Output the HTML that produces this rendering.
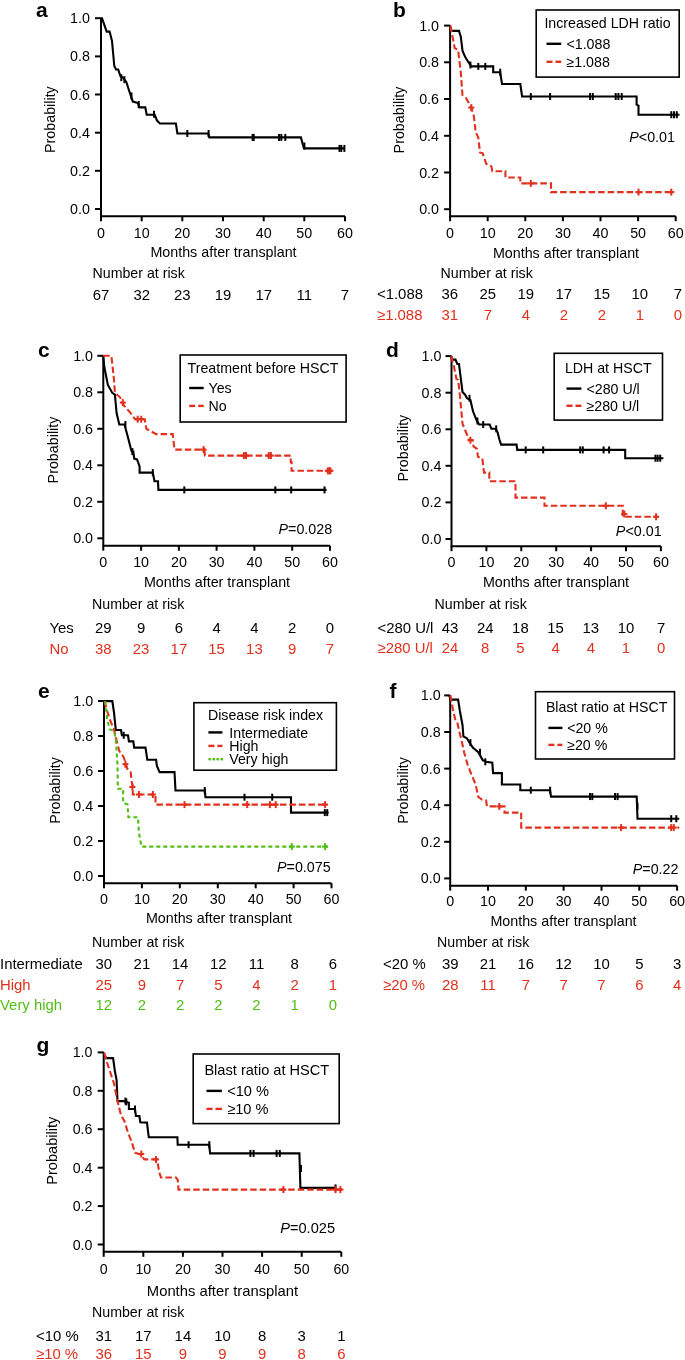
<!DOCTYPE html>
<html><head><meta charset="utf-8"><style>
html,body{margin:0;padding:0;background:#fff;}
svg{display:block;will-change:transform;}
text{font-family:"Liberation Sans", sans-serif;}
</style></head><body>
<svg width="685" height="1360" viewBox="0 0 685 1360">
<rect width="685" height="1360" fill="#fff"/>
<text x="36.0" y="17.0" font-size="21" text-anchor="start" fill="#000" font-weight="bold" font-style="normal" >a</text>
<path d="M101.0,18.2 L101.0,216.3 L345.0,216.3" fill="none" stroke="#000" stroke-width="2" stroke-linejoin="miter"/>
<line x1="95.0" y1="209.0" x2="101.0" y2="209.0" stroke="#000" stroke-width="2"/>
<text x="89.9" y="214.0" font-size="14.3" text-anchor="end" fill="#000" font-weight="normal" font-style="normal" >0.0</text>
<line x1="95.0" y1="170.8" x2="101.0" y2="170.8" stroke="#000" stroke-width="2"/>
<text x="89.9" y="175.8" font-size="14.3" text-anchor="end" fill="#000" font-weight="normal" font-style="normal" >0.2</text>
<line x1="95.0" y1="132.7" x2="101.0" y2="132.7" stroke="#000" stroke-width="2"/>
<text x="89.9" y="137.7" font-size="14.3" text-anchor="end" fill="#000" font-weight="normal" font-style="normal" >0.4</text>
<line x1="95.0" y1="94.5" x2="101.0" y2="94.5" stroke="#000" stroke-width="2"/>
<text x="89.9" y="99.5" font-size="14.3" text-anchor="end" fill="#000" font-weight="normal" font-style="normal" >0.6</text>
<line x1="95.0" y1="56.4" x2="101.0" y2="56.4" stroke="#000" stroke-width="2"/>
<text x="89.9" y="61.4" font-size="14.3" text-anchor="end" fill="#000" font-weight="normal" font-style="normal" >0.8</text>
<line x1="95.0" y1="18.2" x2="101.0" y2="18.2" stroke="#000" stroke-width="2"/>
<text x="89.9" y="23.2" font-size="14.3" text-anchor="end" fill="#000" font-weight="normal" font-style="normal" >1.0</text>
<line x1="101.0" y1="216.3" x2="101.0" y2="221.3" stroke="#000" stroke-width="2"/>
<text x="101.0" y="238.3" font-size="14.3" text-anchor="middle" fill="#000" font-weight="normal" font-style="normal" >0</text>
<line x1="141.7" y1="216.3" x2="141.7" y2="221.3" stroke="#000" stroke-width="2"/>
<text x="141.7" y="238.3" font-size="14.3" text-anchor="middle" fill="#000" font-weight="normal" font-style="normal" >10</text>
<line x1="182.3" y1="216.3" x2="182.3" y2="221.3" stroke="#000" stroke-width="2"/>
<text x="182.3" y="238.3" font-size="14.3" text-anchor="middle" fill="#000" font-weight="normal" font-style="normal" >20</text>
<line x1="223.0" y1="216.3" x2="223.0" y2="221.3" stroke="#000" stroke-width="2"/>
<text x="223.0" y="238.3" font-size="14.3" text-anchor="middle" fill="#000" font-weight="normal" font-style="normal" >30</text>
<line x1="263.7" y1="216.3" x2="263.7" y2="221.3" stroke="#000" stroke-width="2"/>
<text x="263.7" y="238.3" font-size="14.3" text-anchor="middle" fill="#000" font-weight="normal" font-style="normal" >40</text>
<line x1="304.3" y1="216.3" x2="304.3" y2="221.3" stroke="#000" stroke-width="2"/>
<text x="304.3" y="238.3" font-size="14.3" text-anchor="middle" fill="#000" font-weight="normal" font-style="normal" >50</text>
<line x1="345.0" y1="216.3" x2="345.0" y2="221.3" stroke="#000" stroke-width="2"/>
<text x="345.0" y="238.3" font-size="14.3" text-anchor="middle" fill="#000" font-weight="normal" font-style="normal" >60</text>
<text x="55.0" y="119.6" font-size="14.3" text-anchor="middle" fill="#000" font-weight="normal" font-style="normal" transform="rotate(-90 55.0 119.6)">Probability</text>
<text x="223.5" y="257.2" font-size="14.3" text-anchor="middle" fill="#000" font-weight="normal" font-style="normal" >Months after transplant</text>
<polyline points="101.0,18.2 102.0,18.2 106.7,31.6 109.6,31.6 112.0,41.0 114.3,66.0 116.0,69.5 118.2,69.5 120.4,76.0 123.0,77.7 126.3,81.9 128.9,90.0 132.8,101.6 138.0,103.0 139.4,107.4 145.3,107.4 146.7,114.7 154.7,114.7 157.0,120.6 159.9,123.5 175.9,123.5 177.4,133.5 208.2,133.5 209.3,137.4 300.9,137.4 302.8,144.4 304.0,148.4 345.0,148.4" fill="none" stroke="#000" stroke-width="2.1" stroke-linejoin="miter"/>
<line x1="121.3" y1="74.2" x2="121.3" y2="81.2" stroke="#000" stroke-width="2"/>
<line x1="124.4" y1="76.2" x2="124.4" y2="83.2" stroke="#000" stroke-width="2"/>
<line x1="131.5" y1="92.5" x2="131.5" y2="99.5" stroke="#000" stroke-width="2"/>
<line x1="138.7" y1="101.0" x2="138.7" y2="108.0" stroke="#000" stroke-width="2"/>
<line x1="154.0" y1="110.7" x2="154.0" y2="117.7" stroke="#000" stroke-width="2"/>
<line x1="187.3" y1="130.0" x2="187.3" y2="137.0" stroke="#000" stroke-width="2"/>
<line x1="208.6" y1="130.0" x2="208.6" y2="137.0" stroke="#000" stroke-width="2"/>
<line x1="252.6" y1="133.9" x2="252.6" y2="140.9" stroke="#000" stroke-width="2"/>
<line x1="253.7" y1="133.9" x2="253.7" y2="140.9" stroke="#000" stroke-width="2"/>
<line x1="279.0" y1="133.9" x2="279.0" y2="140.9" stroke="#000" stroke-width="2"/>
<line x1="281.3" y1="133.9" x2="281.3" y2="140.9" stroke="#000" stroke-width="2"/>
<line x1="285.3" y1="133.9" x2="285.3" y2="140.9" stroke="#000" stroke-width="2"/>
<line x1="304.4" y1="142.5" x2="304.4" y2="149.5" stroke="#000" stroke-width="2"/>
<line x1="339.5" y1="144.9" x2="339.5" y2="151.9" stroke="#000" stroke-width="2"/>
<line x1="341.3" y1="144.9" x2="341.3" y2="151.9" stroke="#000" stroke-width="2"/>
<line x1="344.4" y1="144.9" x2="344.4" y2="151.9" stroke="#000" stroke-width="2"/>
<text x="92.5" y="277.5" font-size="14.2" text-anchor="start" fill="#000" font-weight="normal" font-style="normal" >Number at risk</text>
<text x="101.0" y="299.5" font-size="14.9" text-anchor="middle" fill="#000" font-weight="normal" font-style="normal" >67</text>
<text x="141.7" y="299.5" font-size="14.9" text-anchor="middle" fill="#000" font-weight="normal" font-style="normal" >32</text>
<text x="182.3" y="299.5" font-size="14.9" text-anchor="middle" fill="#000" font-weight="normal" font-style="normal" >23</text>
<text x="223.0" y="299.5" font-size="14.9" text-anchor="middle" fill="#000" font-weight="normal" font-style="normal" >19</text>
<text x="263.7" y="299.5" font-size="14.9" text-anchor="middle" fill="#000" font-weight="normal" font-style="normal" >17</text>
<text x="304.3" y="299.5" font-size="14.9" text-anchor="middle" fill="#000" font-weight="normal" font-style="normal" >11</text>
<text x="345.0" y="299.5" font-size="14.9" text-anchor="middle" fill="#000" font-weight="normal" font-style="normal" >7</text>
<text x="393.0" y="17.2" font-size="21" text-anchor="start" fill="#000" font-weight="bold" font-style="normal" >b</text>
<path d="M450.1,25.6 L450.1,216.2 L675.7,216.2" fill="none" stroke="#000" stroke-width="2" stroke-linejoin="miter"/>
<line x1="444.1" y1="209.2" x2="450.1" y2="209.2" stroke="#000" stroke-width="2"/>
<text x="439.0" y="214.2" font-size="14.3" text-anchor="end" fill="#000" font-weight="normal" font-style="normal" >0.0</text>
<line x1="444.1" y1="172.5" x2="450.1" y2="172.5" stroke="#000" stroke-width="2"/>
<text x="439.0" y="177.5" font-size="14.3" text-anchor="end" fill="#000" font-weight="normal" font-style="normal" >0.2</text>
<line x1="444.1" y1="135.8" x2="450.1" y2="135.8" stroke="#000" stroke-width="2"/>
<text x="439.0" y="140.8" font-size="14.3" text-anchor="end" fill="#000" font-weight="normal" font-style="normal" >0.4</text>
<line x1="444.1" y1="99.0" x2="450.1" y2="99.0" stroke="#000" stroke-width="2"/>
<text x="439.0" y="104.0" font-size="14.3" text-anchor="end" fill="#000" font-weight="normal" font-style="normal" >0.6</text>
<line x1="444.1" y1="62.3" x2="450.1" y2="62.3" stroke="#000" stroke-width="2"/>
<text x="439.0" y="67.3" font-size="14.3" text-anchor="end" fill="#000" font-weight="normal" font-style="normal" >0.8</text>
<line x1="444.1" y1="25.6" x2="450.1" y2="25.6" stroke="#000" stroke-width="2"/>
<text x="439.0" y="30.6" font-size="14.3" text-anchor="end" fill="#000" font-weight="normal" font-style="normal" >1.0</text>
<line x1="450.1" y1="216.2" x2="450.1" y2="221.2" stroke="#000" stroke-width="2"/>
<text x="450.1" y="238.2" font-size="14.3" text-anchor="middle" fill="#000" font-weight="normal" font-style="normal" >0</text>
<line x1="487.7" y1="216.2" x2="487.7" y2="221.2" stroke="#000" stroke-width="2"/>
<text x="487.7" y="238.2" font-size="14.3" text-anchor="middle" fill="#000" font-weight="normal" font-style="normal" >10</text>
<line x1="525.3" y1="216.2" x2="525.3" y2="221.2" stroke="#000" stroke-width="2"/>
<text x="525.3" y="238.2" font-size="14.3" text-anchor="middle" fill="#000" font-weight="normal" font-style="normal" >20</text>
<line x1="562.9" y1="216.2" x2="562.9" y2="221.2" stroke="#000" stroke-width="2"/>
<text x="562.9" y="238.2" font-size="14.3" text-anchor="middle" fill="#000" font-weight="normal" font-style="normal" >30</text>
<line x1="600.5" y1="216.2" x2="600.5" y2="221.2" stroke="#000" stroke-width="2"/>
<text x="600.5" y="238.2" font-size="14.3" text-anchor="middle" fill="#000" font-weight="normal" font-style="normal" >40</text>
<line x1="638.1" y1="216.2" x2="638.1" y2="221.2" stroke="#000" stroke-width="2"/>
<text x="638.1" y="238.2" font-size="14.3" text-anchor="middle" fill="#000" font-weight="normal" font-style="normal" >50</text>
<line x1="675.7" y1="216.2" x2="675.7" y2="221.2" stroke="#000" stroke-width="2"/>
<text x="675.7" y="238.2" font-size="14.3" text-anchor="middle" fill="#000" font-weight="normal" font-style="normal" >60</text>
<text x="403.9" y="120.0" font-size="14.3" text-anchor="middle" fill="#000" font-weight="normal" font-style="normal" transform="rotate(-90 403.9 120.0)">Probability</text>
<text x="566.0" y="257.6" font-size="14.3" text-anchor="middle" fill="#000" font-weight="normal" font-style="normal" >Months after transplant</text>
<polyline points="450.1,25.8 451.1,30.9 459.0,30.9 460.8,36.6 462.5,50.7 465.1,56.8 467.8,61.2 471.3,66.4 493.2,66.4 493.2,72.2 500.2,72.2 502.0,84.0 520.3,84.0 522.1,96.5 636.6,96.5 636.6,104.7 638.5,105.6 638.5,114.7 679.5,114.7" fill="none" stroke="#000" stroke-width="2.1" stroke-linejoin="miter"/>
<line x1="470.4" y1="61.5" x2="470.4" y2="68.5" stroke="#000" stroke-width="2"/>
<line x1="478.3" y1="62.9" x2="478.3" y2="69.9" stroke="#000" stroke-width="2"/>
<line x1="485.3" y1="62.9" x2="485.3" y2="69.9" stroke="#000" stroke-width="2"/>
<line x1="500.2" y1="68.7" x2="500.2" y2="75.7" stroke="#000" stroke-width="2"/>
<line x1="530.8" y1="93.0" x2="530.8" y2="100.0" stroke="#000" stroke-width="2"/>
<line x1="550.1" y1="93.0" x2="550.1" y2="100.0" stroke="#000" stroke-width="2"/>
<line x1="590.1" y1="93.0" x2="590.1" y2="100.0" stroke="#000" stroke-width="2"/>
<line x1="592.8" y1="93.0" x2="592.8" y2="100.0" stroke="#000" stroke-width="2"/>
<line x1="615.7" y1="93.0" x2="615.7" y2="100.0" stroke="#000" stroke-width="2"/>
<line x1="618.4" y1="93.0" x2="618.4" y2="100.0" stroke="#000" stroke-width="2"/>
<line x1="621.7" y1="93.0" x2="621.7" y2="100.0" stroke="#000" stroke-width="2"/>
<line x1="671.3" y1="111.2" x2="671.3" y2="118.2" stroke="#000" stroke-width="2"/>
<line x1="674.0" y1="111.2" x2="674.0" y2="118.2" stroke="#000" stroke-width="2"/>
<line x1="676.8" y1="111.2" x2="676.8" y2="118.2" stroke="#000" stroke-width="2"/>
<polyline points="450.3,25.8 453.8,42.8 454.6,48.0 458.1,49.8 460.8,72.6 462.5,95.3 466.0,98.0 471.3,107.6 473.9,116.4 475.7,132.3 478.3,137.5 480.0,152.4 482.7,153.3 486.2,163.8 491.4,166.4 492.3,171.2 505.4,171.2 505.4,177.5 520.3,177.5 520.3,183.4 551.0,183.4 551.0,192.1 672.2,192.1" fill="none" stroke="#e1301e" stroke-width="2.1" stroke-linejoin="miter" stroke-dasharray="6.5 3"/>
<line x1="471.3" y1="104.1" x2="471.3" y2="111.1" stroke="#e1301e" stroke-width="2"/>
<line x1="468.3" y1="107.6" x2="474.3" y2="107.6" stroke="#e1301e" stroke-width="2.1"/>
<line x1="530.8" y1="179.9" x2="530.8" y2="186.9" stroke="#e1301e" stroke-width="2"/>
<line x1="527.8" y1="183.4" x2="533.8" y2="183.4" stroke="#e1301e" stroke-width="2.1"/>
<line x1="638.5" y1="188.6" x2="638.5" y2="195.6" stroke="#e1301e" stroke-width="2"/>
<line x1="635.5" y1="192.1" x2="641.5" y2="192.1" stroke="#e1301e" stroke-width="2.1"/>
<line x1="671.3" y1="188.6" x2="671.3" y2="195.6" stroke="#e1301e" stroke-width="2"/>
<line x1="668.3" y1="192.1" x2="674.3" y2="192.1" stroke="#e1301e" stroke-width="2.1"/>
<rect x="536.2" y="10.0" width="143.0" height="67.1" fill="#fff" stroke="#000" stroke-width="1.6"/>
<text x="544.4" y="28.0" font-size="14.2" text-anchor="start" fill="#000" font-weight="normal" font-style="normal" >Increased LDH ratio</text>
<line x1="546.5" y1="43.8" x2="561.2" y2="43.8" stroke="#000" stroke-width="2.4"/>
<text x="566.5" y="48.5" font-size="14.2" text-anchor="start" fill="#000" font-weight="normal" font-style="normal" >&lt;1.088</text>
<line x1="546.5" y1="61.8" x2="552.5" y2="61.8" stroke="#e1301e" stroke-width="2.4"/>
<line x1="555.5" y1="61.8" x2="561.2" y2="61.8" stroke="#e1301e" stroke-width="2.4"/>
<text x="566.5" y="66.5" font-size="14.2" text-anchor="start" fill="#000" font-weight="normal" font-style="normal" >≥1.088</text>
<text x="675.0" y="142.0" font-size="14.3" text-anchor="end"><tspan font-style="italic">P</tspan>&lt;0.01</text>
<text x="440.5" y="278.0" font-size="14.2" text-anchor="start" fill="#000" font-weight="normal" font-style="normal" >Number at risk</text>
<text x="377.0" y="299.0" font-size="14.9" text-anchor="start" fill="#000" font-weight="normal" font-style="normal" >&lt;1.088</text>
<text x="449.8" y="299.0" font-size="14.9" text-anchor="middle" fill="#000" font-weight="normal" font-style="normal" >36</text>
<text x="487.8" y="299.0" font-size="14.9" text-anchor="middle" fill="#000" font-weight="normal" font-style="normal" >25</text>
<text x="525.8" y="299.0" font-size="14.9" text-anchor="middle" fill="#000" font-weight="normal" font-style="normal" >19</text>
<text x="563.8" y="299.0" font-size="14.9" text-anchor="middle" fill="#000" font-weight="normal" font-style="normal" >17</text>
<text x="601.8" y="299.0" font-size="14.9" text-anchor="middle" fill="#000" font-weight="normal" font-style="normal" >15</text>
<text x="639.8" y="299.0" font-size="14.9" text-anchor="middle" fill="#000" font-weight="normal" font-style="normal" >10</text>
<text x="677.8" y="299.0" font-size="14.9" text-anchor="middle" fill="#000" font-weight="normal" font-style="normal" >7</text>
<text x="377.0" y="319.6" font-size="14.9" text-anchor="start" fill="#e1301e" font-weight="normal" font-style="normal" >≥1.088</text>
<text x="449.8" y="319.6" font-size="14.9" text-anchor="middle" fill="#e1301e" font-weight="normal" font-style="normal" >31</text>
<text x="487.8" y="319.6" font-size="14.9" text-anchor="middle" fill="#e1301e" font-weight="normal" font-style="normal" >7</text>
<text x="525.8" y="319.6" font-size="14.9" text-anchor="middle" fill="#e1301e" font-weight="normal" font-style="normal" >4</text>
<text x="563.8" y="319.6" font-size="14.9" text-anchor="middle" fill="#e1301e" font-weight="normal" font-style="normal" >2</text>
<text x="601.8" y="319.6" font-size="14.9" text-anchor="middle" fill="#e1301e" font-weight="normal" font-style="normal" >2</text>
<text x="639.8" y="319.6" font-size="14.9" text-anchor="middle" fill="#e1301e" font-weight="normal" font-style="normal" >1</text>
<text x="677.8" y="319.6" font-size="14.9" text-anchor="middle" fill="#e1301e" font-weight="normal" font-style="normal" >0</text>
<text x="38.0" y="357.0" font-size="21" text-anchor="start" fill="#000" font-weight="bold" font-style="normal" >c</text>
<path d="M103.3,355.8 L103.3,545.7 L330.0,545.7" fill="none" stroke="#000" stroke-width="2" stroke-linejoin="miter"/>
<line x1="97.3" y1="538.3" x2="103.3" y2="538.3" stroke="#000" stroke-width="2"/>
<text x="93.0" y="543.3" font-size="14.3" text-anchor="end" fill="#000" font-weight="normal" font-style="normal" >0.0</text>
<line x1="97.3" y1="501.8" x2="103.3" y2="501.8" stroke="#000" stroke-width="2"/>
<text x="93.0" y="506.8" font-size="14.3" text-anchor="end" fill="#000" font-weight="normal" font-style="normal" >0.2</text>
<line x1="97.3" y1="465.3" x2="103.3" y2="465.3" stroke="#000" stroke-width="2"/>
<text x="93.0" y="470.3" font-size="14.3" text-anchor="end" fill="#000" font-weight="normal" font-style="normal" >0.4</text>
<line x1="97.3" y1="428.8" x2="103.3" y2="428.8" stroke="#000" stroke-width="2"/>
<text x="93.0" y="433.8" font-size="14.3" text-anchor="end" fill="#000" font-weight="normal" font-style="normal" >0.6</text>
<line x1="97.3" y1="392.3" x2="103.3" y2="392.3" stroke="#000" stroke-width="2"/>
<text x="93.0" y="397.3" font-size="14.3" text-anchor="end" fill="#000" font-weight="normal" font-style="normal" >0.8</text>
<line x1="97.3" y1="355.8" x2="103.3" y2="355.8" stroke="#000" stroke-width="2"/>
<text x="93.0" y="360.8" font-size="14.3" text-anchor="end" fill="#000" font-weight="normal" font-style="normal" >1.0</text>
<line x1="103.3" y1="545.7" x2="103.3" y2="550.7" stroke="#000" stroke-width="2"/>
<text x="103.3" y="566.7" font-size="14.3" text-anchor="middle" fill="#000" font-weight="normal" font-style="normal" >0</text>
<line x1="141.1" y1="545.7" x2="141.1" y2="550.7" stroke="#000" stroke-width="2"/>
<text x="141.1" y="566.7" font-size="14.3" text-anchor="middle" fill="#000" font-weight="normal" font-style="normal" >10</text>
<line x1="178.9" y1="545.7" x2="178.9" y2="550.7" stroke="#000" stroke-width="2"/>
<text x="178.9" y="566.7" font-size="14.3" text-anchor="middle" fill="#000" font-weight="normal" font-style="normal" >20</text>
<line x1="216.6" y1="545.7" x2="216.6" y2="550.7" stroke="#000" stroke-width="2"/>
<text x="216.6" y="566.7" font-size="14.3" text-anchor="middle" fill="#000" font-weight="normal" font-style="normal" >30</text>
<line x1="254.4" y1="545.7" x2="254.4" y2="550.7" stroke="#000" stroke-width="2"/>
<text x="254.4" y="566.7" font-size="14.3" text-anchor="middle" fill="#000" font-weight="normal" font-style="normal" >40</text>
<line x1="292.2" y1="545.7" x2="292.2" y2="550.7" stroke="#000" stroke-width="2"/>
<text x="292.2" y="566.7" font-size="14.3" text-anchor="middle" fill="#000" font-weight="normal" font-style="normal" >50</text>
<line x1="330.0" y1="545.7" x2="330.0" y2="550.7" stroke="#000" stroke-width="2"/>
<text x="330.0" y="566.7" font-size="14.3" text-anchor="middle" fill="#000" font-weight="normal" font-style="normal" >60</text>
<text x="57.9" y="450.0" font-size="14.3" text-anchor="middle" fill="#000" font-weight="normal" font-style="normal" transform="rotate(-90 57.9 450.0)">Probability</text>
<text x="217.0" y="587.0" font-size="14.3" text-anchor="middle" fill="#000" font-weight="normal" font-style="normal" >Months after transplant</text>
<polyline points="103.2,355.8 104.4,367.5 107.9,385.0 112.3,392.9 114.9,394.7 116.6,413.1 119.3,424.5 124.5,424.5 128.0,437.6 130.7,448.1 131.8,451.5 133.3,451.6 134.2,458.6 137.0,459.4 139.6,466.4 139.6,472.6 152.8,472.6 154.5,481.3 158.0,481.3 158.4,489.9 326.6,489.9" fill="none" stroke="#000" stroke-width="2.1" stroke-linejoin="miter"/>
<line x1="125.4" y1="421.0" x2="125.4" y2="428.0" stroke="#000" stroke-width="2"/>
<line x1="132.4" y1="448.1" x2="132.4" y2="455.1" stroke="#000" stroke-width="2"/>
<line x1="152.8" y1="469.1" x2="152.8" y2="476.1" stroke="#000" stroke-width="2"/>
<line x1="184.3" y1="486.4" x2="184.3" y2="493.4" stroke="#000" stroke-width="2"/>
<line x1="275.3" y1="486.4" x2="275.3" y2="493.4" stroke="#000" stroke-width="2"/>
<line x1="291.2" y1="486.4" x2="291.2" y2="493.4" stroke="#000" stroke-width="2"/>
<line x1="324.5" y1="486.4" x2="324.5" y2="493.4" stroke="#000" stroke-width="2"/>
<polyline points="103.2,355.8 111.4,355.8 114.0,379.8 114.9,392.9 120.1,397.3 123.7,405.2 130.7,413.1 135.0,419.2 144.7,419.2 146.4,428.8 156.1,434.1 172.7,434.1 174.5,449.6 204.2,449.6 205.1,455.6 290.7,455.6 290.7,462.0 291.6,462.0 291.6,470.8 330.1,470.8" fill="none" stroke="#e1301e" stroke-width="2.1" stroke-linejoin="miter" stroke-dasharray="6.5 3"/>
<line x1="122.8" y1="399.1" x2="122.8" y2="406.1" stroke="#e1301e" stroke-width="2"/>
<line x1="119.8" y1="402.6" x2="125.8" y2="402.6" stroke="#e1301e" stroke-width="2.1"/>
<line x1="137.7" y1="415.7" x2="137.7" y2="422.7" stroke="#e1301e" stroke-width="2"/>
<line x1="134.7" y1="419.2" x2="140.7" y2="419.2" stroke="#e1301e" stroke-width="2.1"/>
<line x1="141.2" y1="415.7" x2="141.2" y2="422.7" stroke="#e1301e" stroke-width="2"/>
<line x1="138.2" y1="419.2" x2="144.2" y2="419.2" stroke="#e1301e" stroke-width="2.1"/>
<line x1="203.6" y1="446.1" x2="203.6" y2="453.1" stroke="#e1301e" stroke-width="2"/>
<line x1="200.6" y1="449.6" x2="206.6" y2="449.6" stroke="#e1301e" stroke-width="2.1"/>
<line x1="243.9" y1="452.1" x2="243.9" y2="459.1" stroke="#e1301e" stroke-width="2"/>
<line x1="240.9" y1="455.6" x2="246.9" y2="455.6" stroke="#e1301e" stroke-width="2.1"/>
<line x1="246.0" y1="452.1" x2="246.0" y2="459.1" stroke="#e1301e" stroke-width="2"/>
<line x1="243.0" y1="455.6" x2="249.0" y2="455.6" stroke="#e1301e" stroke-width="2.1"/>
<line x1="268.8" y1="452.1" x2="268.8" y2="459.1" stroke="#e1301e" stroke-width="2"/>
<line x1="265.8" y1="455.6" x2="271.8" y2="455.6" stroke="#e1301e" stroke-width="2.1"/>
<line x1="270.9" y1="452.1" x2="270.9" y2="459.1" stroke="#e1301e" stroke-width="2"/>
<line x1="267.9" y1="455.6" x2="273.9" y2="455.6" stroke="#e1301e" stroke-width="2.1"/>
<line x1="327.8" y1="467.3" x2="327.8" y2="474.3" stroke="#e1301e" stroke-width="2"/>
<line x1="324.8" y1="470.8" x2="330.8" y2="470.8" stroke="#e1301e" stroke-width="2.1"/>
<line x1="329.2" y1="467.3" x2="329.2" y2="474.3" stroke="#e1301e" stroke-width="2"/>
<line x1="326.2" y1="470.8" x2="332.2" y2="470.8" stroke="#e1301e" stroke-width="2.1"/>
<line x1="330.4" y1="467.3" x2="330.4" y2="474.3" stroke="#e1301e" stroke-width="2"/>
<line x1="327.4" y1="470.8" x2="333.4" y2="470.8" stroke="#e1301e" stroke-width="2.1"/>
<rect x="180.2" y="355.0" width="165.9" height="67.0" fill="#fff" stroke="#000" stroke-width="1.6"/>
<text x="187.6" y="373.3" font-size="14.2" text-anchor="start" fill="#000" font-weight="normal" font-style="normal" >Treatment before HSCT</text>
<line x1="189.2" y1="388.0" x2="203.7" y2="388.0" stroke="#000" stroke-width="2.4"/>
<text x="208.5" y="393.1" font-size="14.2" text-anchor="start" fill="#000" font-weight="normal" font-style="normal" >Yes</text>
<line x1="189.2" y1="405.9" x2="195.2" y2="405.9" stroke="#e1301e" stroke-width="2.4"/>
<line x1="198.2" y1="405.9" x2="203.7" y2="405.9" stroke="#e1301e" stroke-width="2.4"/>
<text x="208.5" y="410.8" font-size="14.2" text-anchor="start" fill="#000" font-weight="normal" font-style="normal" >No</text>
<text x="332.2" y="533.9" font-size="14.3" text-anchor="end"><tspan font-style="italic">P</tspan>=0.028</text>
<text x="92.0" y="608.9" font-size="14.2" text-anchor="start" fill="#000" font-weight="normal" font-style="normal" >Number at risk</text>
<text x="49.5" y="633.3" font-size="14.9" text-anchor="start" fill="#000" font-weight="normal" font-style="normal" >Yes</text>
<text x="103.3" y="633.3" font-size="14.9" text-anchor="middle" fill="#000" font-weight="normal" font-style="normal" >29</text>
<text x="141.1" y="633.3" font-size="14.9" text-anchor="middle" fill="#000" font-weight="normal" font-style="normal" >9</text>
<text x="178.9" y="633.3" font-size="14.9" text-anchor="middle" fill="#000" font-weight="normal" font-style="normal" >6</text>
<text x="216.6" y="633.3" font-size="14.9" text-anchor="middle" fill="#000" font-weight="normal" font-style="normal" >4</text>
<text x="254.4" y="633.3" font-size="14.9" text-anchor="middle" fill="#000" font-weight="normal" font-style="normal" >4</text>
<text x="292.2" y="633.3" font-size="14.9" text-anchor="middle" fill="#000" font-weight="normal" font-style="normal" >2</text>
<text x="330.0" y="633.3" font-size="14.9" text-anchor="middle" fill="#000" font-weight="normal" font-style="normal" >0</text>
<text x="49.5" y="654.0" font-size="14.9" text-anchor="start" fill="#e1301e" font-weight="normal" font-style="normal" >No</text>
<text x="103.3" y="654.0" font-size="14.9" text-anchor="middle" fill="#e1301e" font-weight="normal" font-style="normal" >38</text>
<text x="141.1" y="654.0" font-size="14.9" text-anchor="middle" fill="#e1301e" font-weight="normal" font-style="normal" >23</text>
<text x="178.9" y="654.0" font-size="14.9" text-anchor="middle" fill="#e1301e" font-weight="normal" font-style="normal" >17</text>
<text x="216.6" y="654.0" font-size="14.9" text-anchor="middle" fill="#e1301e" font-weight="normal" font-style="normal" >15</text>
<text x="254.4" y="654.0" font-size="14.9" text-anchor="middle" fill="#e1301e" font-weight="normal" font-style="normal" >13</text>
<text x="292.2" y="654.0" font-size="14.9" text-anchor="middle" fill="#e1301e" font-weight="normal" font-style="normal" >9</text>
<text x="330.0" y="654.0" font-size="14.9" text-anchor="middle" fill="#e1301e" font-weight="normal" font-style="normal" >7</text>
<text x="386.0" y="356.7" font-size="21" text-anchor="start" fill="#000" font-weight="bold" font-style="normal" >d</text>
<path d="M451.5,356.1 L451.5,546.2 L660.9,546.2" fill="none" stroke="#000" stroke-width="2" stroke-linejoin="miter"/>
<line x1="445.5" y1="539.0" x2="451.5" y2="539.0" stroke="#000" stroke-width="2"/>
<text x="441.4" y="544.0" font-size="14.3" text-anchor="end" fill="#000" font-weight="normal" font-style="normal" >0.0</text>
<line x1="445.5" y1="502.4" x2="451.5" y2="502.4" stroke="#000" stroke-width="2"/>
<text x="441.4" y="507.4" font-size="14.3" text-anchor="end" fill="#000" font-weight="normal" font-style="normal" >0.2</text>
<line x1="445.5" y1="465.8" x2="451.5" y2="465.8" stroke="#000" stroke-width="2"/>
<text x="441.4" y="470.8" font-size="14.3" text-anchor="end" fill="#000" font-weight="normal" font-style="normal" >0.4</text>
<line x1="445.5" y1="429.3" x2="451.5" y2="429.3" stroke="#000" stroke-width="2"/>
<text x="441.4" y="434.3" font-size="14.3" text-anchor="end" fill="#000" font-weight="normal" font-style="normal" >0.6</text>
<line x1="445.5" y1="392.7" x2="451.5" y2="392.7" stroke="#000" stroke-width="2"/>
<text x="441.4" y="397.7" font-size="14.3" text-anchor="end" fill="#000" font-weight="normal" font-style="normal" >0.8</text>
<line x1="445.5" y1="356.1" x2="451.5" y2="356.1" stroke="#000" stroke-width="2"/>
<text x="441.4" y="361.1" font-size="14.3" text-anchor="end" fill="#000" font-weight="normal" font-style="normal" >1.0</text>
<line x1="451.5" y1="546.2" x2="451.5" y2="551.2" stroke="#000" stroke-width="2"/>
<text x="451.5" y="566.7" font-size="14.3" text-anchor="middle" fill="#000" font-weight="normal" font-style="normal" >0</text>
<line x1="486.4" y1="546.2" x2="486.4" y2="551.2" stroke="#000" stroke-width="2"/>
<text x="486.4" y="566.7" font-size="14.3" text-anchor="middle" fill="#000" font-weight="normal" font-style="normal" >10</text>
<line x1="521.3" y1="546.2" x2="521.3" y2="551.2" stroke="#000" stroke-width="2"/>
<text x="521.3" y="566.7" font-size="14.3" text-anchor="middle" fill="#000" font-weight="normal" font-style="normal" >20</text>
<line x1="556.2" y1="546.2" x2="556.2" y2="551.2" stroke="#000" stroke-width="2"/>
<text x="556.2" y="566.7" font-size="14.3" text-anchor="middle" fill="#000" font-weight="normal" font-style="normal" >30</text>
<line x1="591.1" y1="546.2" x2="591.1" y2="551.2" stroke="#000" stroke-width="2"/>
<text x="591.1" y="566.7" font-size="14.3" text-anchor="middle" fill="#000" font-weight="normal" font-style="normal" >40</text>
<line x1="626.0" y1="546.2" x2="626.0" y2="551.2" stroke="#000" stroke-width="2"/>
<text x="626.0" y="566.7" font-size="14.3" text-anchor="middle" fill="#000" font-weight="normal" font-style="normal" >50</text>
<line x1="660.9" y1="546.2" x2="660.9" y2="551.2" stroke="#000" stroke-width="2"/>
<text x="660.9" y="566.7" font-size="14.3" text-anchor="middle" fill="#000" font-weight="normal" font-style="normal" >60</text>
<text x="407.9" y="448.1" font-size="14.3" text-anchor="middle" fill="#000" font-weight="normal" font-style="normal" transform="rotate(-90 407.9 448.1)">Probability</text>
<text x="556.0" y="587.0" font-size="14.3" text-anchor="middle" fill="#000" font-weight="normal" font-style="normal" >Months after transplant</text>
<polyline points="450.8,356.1 452.0,359.6 455.5,359.6 457.3,364.0 459.0,364.0 462.5,392.0 465.1,394.7 466.9,398.2 470.4,399.9 473.0,411.3 476.5,420.1 479.2,424.5 489.7,424.5 491.4,428.8 495.8,428.8 497.6,432.3 499.3,439.3 501.1,444.6 516.6,444.6 517.2,449.9 625.2,449.9 625.2,458.2 663.4,458.2" fill="none" stroke="#000" stroke-width="2.1" stroke-linejoin="miter"/>
<line x1="469.5" y1="394.7" x2="469.5" y2="401.7" stroke="#000" stroke-width="2"/>
<line x1="477.4" y1="417.5" x2="477.4" y2="424.5" stroke="#000" stroke-width="2"/>
<line x1="483.2" y1="421.0" x2="483.2" y2="428.0" stroke="#000" stroke-width="2"/>
<line x1="496.2" y1="425.3" x2="496.2" y2="432.3" stroke="#000" stroke-width="2"/>
<line x1="525.7" y1="446.4" x2="525.7" y2="453.4" stroke="#000" stroke-width="2"/>
<line x1="543.2" y1="446.4" x2="543.2" y2="453.4" stroke="#000" stroke-width="2"/>
<line x1="580.2" y1="446.4" x2="580.2" y2="453.4" stroke="#000" stroke-width="2"/>
<line x1="582.8" y1="446.4" x2="582.8" y2="453.4" stroke="#000" stroke-width="2"/>
<line x1="603.6" y1="446.4" x2="603.6" y2="453.4" stroke="#000" stroke-width="2"/>
<line x1="609.1" y1="446.4" x2="609.1" y2="453.4" stroke="#000" stroke-width="2"/>
<line x1="655.4" y1="454.7" x2="655.4" y2="461.7" stroke="#000" stroke-width="2"/>
<line x1="657.6" y1="454.7" x2="657.6" y2="461.7" stroke="#000" stroke-width="2"/>
<line x1="660.2" y1="454.7" x2="660.2" y2="461.7" stroke="#000" stroke-width="2"/>
<polyline points="451.1,356.1 453.8,365.8 456.4,378.9 458.1,379.8 459.9,395.6 462.5,423.6 466.0,432.3 469.5,440.2 472.6,440.1 473.5,446.3 477.0,448.9 477.9,456.8 482.3,458.5 484.0,472.6 489.3,472.6 489.3,481.3 515.5,481.3 515.5,497.6 544.5,497.6 544.5,505.8 622.8,505.8 622.8,516.8 657.6,516.8" fill="none" stroke="#e1301e" stroke-width="2.1" stroke-linejoin="miter" stroke-dasharray="6.5 3"/>
<line x1="470.4" y1="436.7" x2="470.4" y2="443.7" stroke="#e1301e" stroke-width="2"/>
<line x1="467.4" y1="440.2" x2="473.4" y2="440.2" stroke="#e1301e" stroke-width="2.1"/>
<line x1="605.8" y1="502.3" x2="605.8" y2="509.3" stroke="#e1301e" stroke-width="2"/>
<line x1="602.8" y1="505.8" x2="608.8" y2="505.8" stroke="#e1301e" stroke-width="2.1"/>
<line x1="624.3" y1="510.5" x2="624.3" y2="517.5" stroke="#e1301e" stroke-width="2"/>
<line x1="621.3" y1="514.0" x2="627.3" y2="514.0" stroke="#e1301e" stroke-width="2.1"/>
<line x1="656.1" y1="513.3" x2="656.1" y2="520.3" stroke="#e1301e" stroke-width="2"/>
<line x1="653.1" y1="516.8" x2="659.1" y2="516.8" stroke="#e1301e" stroke-width="2.1"/>
<rect x="554.2" y="353.3" width="108.3" height="66.8" fill="#fff" stroke="#000" stroke-width="1.6"/>
<text x="564.9" y="373.1" font-size="14.2" text-anchor="start" fill="#000" font-weight="normal" font-style="normal" >LDH at HSCT</text>
<line x1="566.5" y1="388.6" x2="581.4" y2="388.6" stroke="#000" stroke-width="2.4"/>
<text x="586.5" y="393.5" font-size="14.2" text-anchor="start" fill="#000" font-weight="normal" font-style="normal" >&lt;280 U/l</text>
<line x1="566.5" y1="405.8" x2="572.5" y2="405.8" stroke="#e1301e" stroke-width="2.4"/>
<line x1="575.5" y1="405.8" x2="581.4" y2="405.8" stroke="#e1301e" stroke-width="2.4"/>
<text x="586.5" y="411.1" font-size="14.2" text-anchor="start" fill="#000" font-weight="normal" font-style="normal" >≥280 U/l</text>
<text x="661.6" y="536.4" font-size="14.3" text-anchor="end"><tspan font-style="italic">P</tspan>&lt;0.01</text>
<text x="434.5" y="608.9" font-size="14.2" text-anchor="start" fill="#000" font-weight="normal" font-style="normal" >Number at risk</text>
<text x="377.5" y="633.3" font-size="14.9" text-anchor="start" fill="#000" font-weight="normal" font-style="normal" >&lt;280 U/l</text>
<text x="450.0" y="633.3" font-size="14.9" text-anchor="middle" fill="#000" font-weight="normal" font-style="normal" >43</text>
<text x="485.2" y="633.3" font-size="14.9" text-anchor="middle" fill="#000" font-weight="normal" font-style="normal" >24</text>
<text x="520.4" y="633.3" font-size="14.9" text-anchor="middle" fill="#000" font-weight="normal" font-style="normal" >18</text>
<text x="555.6" y="633.3" font-size="14.9" text-anchor="middle" fill="#000" font-weight="normal" font-style="normal" >15</text>
<text x="590.8" y="633.3" font-size="14.9" text-anchor="middle" fill="#000" font-weight="normal" font-style="normal" >13</text>
<text x="626.0" y="633.3" font-size="14.9" text-anchor="middle" fill="#000" font-weight="normal" font-style="normal" >10</text>
<text x="661.2" y="633.3" font-size="14.9" text-anchor="middle" fill="#000" font-weight="normal" font-style="normal" >7</text>
<text x="377.5" y="653.2" font-size="14.9" text-anchor="start" fill="#e1301e" font-weight="normal" font-style="normal" >≥280 U/l</text>
<text x="450.0" y="653.2" font-size="14.9" text-anchor="middle" fill="#e1301e" font-weight="normal" font-style="normal" >24</text>
<text x="485.2" y="653.2" font-size="14.9" text-anchor="middle" fill="#e1301e" font-weight="normal" font-style="normal" >8</text>
<text x="520.4" y="653.2" font-size="14.9" text-anchor="middle" fill="#e1301e" font-weight="normal" font-style="normal" >5</text>
<text x="555.6" y="653.2" font-size="14.9" text-anchor="middle" fill="#e1301e" font-weight="normal" font-style="normal" >4</text>
<text x="590.8" y="653.2" font-size="14.9" text-anchor="middle" fill="#e1301e" font-weight="normal" font-style="normal" >4</text>
<text x="626.0" y="653.2" font-size="14.9" text-anchor="middle" fill="#e1301e" font-weight="normal" font-style="normal" >1</text>
<text x="661.2" y="653.2" font-size="14.9" text-anchor="middle" fill="#e1301e" font-weight="normal" font-style="normal" >0</text>
<text x="38.0" y="698.0" font-size="21" text-anchor="start" fill="#000" font-weight="bold" font-style="normal" >e</text>
<path d="M104.0,701.0 L104.0,883.3 L331.5,883.3" fill="none" stroke="#000" stroke-width="2" stroke-linejoin="miter"/>
<line x1="98.0" y1="876.0" x2="104.0" y2="876.0" stroke="#000" stroke-width="2"/>
<text x="93.2" y="881.0" font-size="14.3" text-anchor="end" fill="#000" font-weight="normal" font-style="normal" >0.0</text>
<line x1="98.0" y1="841.0" x2="104.0" y2="841.0" stroke="#000" stroke-width="2"/>
<text x="93.2" y="846.0" font-size="14.3" text-anchor="end" fill="#000" font-weight="normal" font-style="normal" >0.2</text>
<line x1="98.0" y1="806.0" x2="104.0" y2="806.0" stroke="#000" stroke-width="2"/>
<text x="93.2" y="811.0" font-size="14.3" text-anchor="end" fill="#000" font-weight="normal" font-style="normal" >0.4</text>
<line x1="98.0" y1="771.0" x2="104.0" y2="771.0" stroke="#000" stroke-width="2"/>
<text x="93.2" y="776.0" font-size="14.3" text-anchor="end" fill="#000" font-weight="normal" font-style="normal" >0.6</text>
<line x1="98.0" y1="736.0" x2="104.0" y2="736.0" stroke="#000" stroke-width="2"/>
<text x="93.2" y="741.0" font-size="14.3" text-anchor="end" fill="#000" font-weight="normal" font-style="normal" >0.8</text>
<line x1="98.0" y1="701.0" x2="104.0" y2="701.0" stroke="#000" stroke-width="2"/>
<text x="93.2" y="706.0" font-size="14.3" text-anchor="end" fill="#000" font-weight="normal" font-style="normal" >1.0</text>
<line x1="104.0" y1="883.3" x2="104.0" y2="888.3" stroke="#000" stroke-width="2"/>
<text x="104.0" y="904.3" font-size="14.3" text-anchor="middle" fill="#000" font-weight="normal" font-style="normal" >0</text>
<line x1="141.9" y1="883.3" x2="141.9" y2="888.3" stroke="#000" stroke-width="2"/>
<text x="141.9" y="904.3" font-size="14.3" text-anchor="middle" fill="#000" font-weight="normal" font-style="normal" >10</text>
<line x1="179.8" y1="883.3" x2="179.8" y2="888.3" stroke="#000" stroke-width="2"/>
<text x="179.8" y="904.3" font-size="14.3" text-anchor="middle" fill="#000" font-weight="normal" font-style="normal" >20</text>
<line x1="217.8" y1="883.3" x2="217.8" y2="888.3" stroke="#000" stroke-width="2"/>
<text x="217.8" y="904.3" font-size="14.3" text-anchor="middle" fill="#000" font-weight="normal" font-style="normal" >30</text>
<line x1="255.7" y1="883.3" x2="255.7" y2="888.3" stroke="#000" stroke-width="2"/>
<text x="255.7" y="904.3" font-size="14.3" text-anchor="middle" fill="#000" font-weight="normal" font-style="normal" >40</text>
<line x1="293.6" y1="883.3" x2="293.6" y2="888.3" stroke="#000" stroke-width="2"/>
<text x="293.6" y="904.3" font-size="14.3" text-anchor="middle" fill="#000" font-weight="normal" font-style="normal" >50</text>
<line x1="331.5" y1="883.3" x2="331.5" y2="888.3" stroke="#000" stroke-width="2"/>
<text x="331.5" y="904.3" font-size="14.3" text-anchor="middle" fill="#000" font-weight="normal" font-style="normal" >60</text>
<text x="59.8" y="790.4" font-size="14.3" text-anchor="middle" fill="#000" font-weight="normal" font-style="normal" transform="rotate(-90 59.8 790.4)">Probability</text>
<text x="219.0" y="923.0" font-size="14.3" text-anchor="middle" fill="#000" font-weight="normal" font-style="normal" >Months after transplant</text>
<polyline points="103.9,701.1 112.3,701.1 114.0,712.5 115.8,730.0 121.0,730.0 121.9,735.3 128.0,735.3 128.9,741.4 133.3,741.4 134.2,747.6 145.5,747.6 146.4,753.7 147.3,759.8 156.1,759.8 156.9,766.0 159.6,772.1 174.5,772.1 175.5,790.5 204.8,790.5 205.5,797.2 291.0,797.2 291.0,812.6 328.6,812.6" fill="none" stroke="#000" stroke-width="2.1" stroke-linejoin="miter"/>
<line x1="123.7" y1="731.8" x2="123.7" y2="738.8" stroke="#000" stroke-width="2"/>
<line x1="204.8" y1="787.0" x2="204.8" y2="794.0" stroke="#000" stroke-width="2"/>
<line x1="244.5" y1="793.7" x2="244.5" y2="800.7" stroke="#000" stroke-width="2"/>
<line x1="272.2" y1="793.7" x2="272.2" y2="800.7" stroke="#000" stroke-width="2"/>
<line x1="324.8" y1="809.1" x2="324.8" y2="816.1" stroke="#000" stroke-width="2"/>
<line x1="327.2" y1="809.1" x2="327.2" y2="816.1" stroke="#000" stroke-width="2"/>
<polyline points="104.4,701.1 107.0,710.8 110.5,721.3 114.0,729.2 116.6,740.6 119.3,751.1 123.7,757.2 127.2,768.6 130.7,772.1 131.5,780.8 132.8,786.1 132.8,794.5 155.5,794.5 155.5,804.6 327.7,804.6" fill="none" stroke="#e1301e" stroke-width="2.1" stroke-linejoin="miter" stroke-dasharray="6.5 3"/>
<line x1="125.4" y1="760.7" x2="125.4" y2="767.7" stroke="#e1301e" stroke-width="2"/>
<line x1="122.4" y1="764.2" x2="128.4" y2="764.2" stroke="#e1301e" stroke-width="2.1"/>
<line x1="132.4" y1="783.5" x2="132.4" y2="790.5" stroke="#e1301e" stroke-width="2"/>
<line x1="129.4" y1="787.0" x2="135.4" y2="787.0" stroke="#e1301e" stroke-width="2.1"/>
<line x1="138.9" y1="791.0" x2="138.9" y2="798.0" stroke="#e1301e" stroke-width="2"/>
<line x1="135.9" y1="794.5" x2="141.9" y2="794.5" stroke="#e1301e" stroke-width="2.1"/>
<line x1="152.9" y1="791.0" x2="152.9" y2="798.0" stroke="#e1301e" stroke-width="2"/>
<line x1="149.9" y1="794.5" x2="155.9" y2="794.5" stroke="#e1301e" stroke-width="2.1"/>
<line x1="184.5" y1="801.1" x2="184.5" y2="808.1" stroke="#e1301e" stroke-width="2"/>
<line x1="181.5" y1="804.6" x2="187.5" y2="804.6" stroke="#e1301e" stroke-width="2.1"/>
<line x1="247.2" y1="801.1" x2="247.2" y2="808.1" stroke="#e1301e" stroke-width="2"/>
<line x1="244.2" y1="804.6" x2="250.2" y2="804.6" stroke="#e1301e" stroke-width="2.1"/>
<line x1="269.9" y1="801.1" x2="269.9" y2="808.1" stroke="#e1301e" stroke-width="2"/>
<line x1="266.9" y1="804.6" x2="272.9" y2="804.6" stroke="#e1301e" stroke-width="2.1"/>
<line x1="275.7" y1="801.1" x2="275.7" y2="808.1" stroke="#e1301e" stroke-width="2"/>
<line x1="272.7" y1="804.6" x2="278.7" y2="804.6" stroke="#e1301e" stroke-width="2.1"/>
<line x1="325.1" y1="801.1" x2="325.1" y2="808.1" stroke="#e1301e" stroke-width="2"/>
<line x1="322.1" y1="804.6" x2="328.1" y2="804.6" stroke="#e1301e" stroke-width="2.1"/>
<polyline points="105.3,701.1 107.0,717.8 109.6,729.2 114.0,731.0 115.8,739.7 117.5,765.1 117.9,788.8 123.1,788.8 123.1,802.8 127.5,804.5 128.4,817.3 138.0,817.3 138.9,832.6 141.5,846.6 327.7,846.6" fill="none" stroke="#52bd14" stroke-width="2.1" stroke-linejoin="miter" stroke-dasharray="4 3"/>
<line x1="291.8" y1="843.1" x2="291.8" y2="850.1" stroke="#52bd14" stroke-width="2"/>
<line x1="288.8" y1="846.6" x2="294.8" y2="846.6" stroke="#52bd14" stroke-width="2.1"/>
<line x1="325.1" y1="843.1" x2="325.1" y2="850.1" stroke="#52bd14" stroke-width="2"/>
<line x1="322.1" y1="846.6" x2="328.1" y2="846.6" stroke="#52bd14" stroke-width="2.1"/>
<rect x="193.9" y="702.7" width="142.5" height="67.5" fill="#fff" stroke="#000" stroke-width="1.6"/>
<text x="207.9" y="719.5" font-size="14.2" text-anchor="start" fill="#000" font-weight="normal" font-style="normal" >Disease risk index</text>
<line x1="208.4" y1="732.4" x2="222.4" y2="732.4" stroke="#000" stroke-width="2.4"/>
<text x="229.3" y="737.5" font-size="14.2" text-anchor="start" fill="#000" font-weight="normal" font-style="normal" >Intermediate</text>
<line x1="208.4" y1="745.9" x2="214.4" y2="745.9" stroke="#e1301e" stroke-width="2.4"/>
<line x1="217.4" y1="745.9" x2="222.4" y2="745.9" stroke="#e1301e" stroke-width="2.4"/>
<text x="229.3" y="750.6" font-size="14.2" text-anchor="start" fill="#000" font-weight="normal" font-style="normal" >High</text>
<line x1="208.4" y1="759.2" x2="210.9" y2="759.2" stroke="#52bd14" stroke-width="2.4"/>
<line x1="212.4" y1="759.2" x2="214.9" y2="759.2" stroke="#52bd14" stroke-width="2.4"/>
<line x1="216.4" y1="759.2" x2="218.9" y2="759.2" stroke="#52bd14" stroke-width="2.4"/>
<line x1="220.4" y1="759.2" x2="222.9" y2="759.2" stroke="#52bd14" stroke-width="2.4"/>
<text x="229.3" y="764.4" font-size="14.2" text-anchor="start" fill="#000" font-weight="normal" font-style="normal" >Very high</text>
<text x="330.7" y="871.6" font-size="14.3" text-anchor="end"><tspan font-style="italic">P</tspan>=0.075</text>
<text x="92.0" y="947.0" font-size="14.2" text-anchor="start" fill="#000" font-weight="normal" font-style="normal" >Number at risk</text>
<text x="0.0" y="968.7" font-size="14.9" text-anchor="start" fill="#000" font-weight="normal" font-style="normal" >Intermediate</text>
<text x="103.7" y="968.7" font-size="14.9" text-anchor="middle" fill="#000" font-weight="normal" font-style="normal" >30</text>
<text x="141.9" y="968.7" font-size="14.9" text-anchor="middle" fill="#000" font-weight="normal" font-style="normal" >21</text>
<text x="180.1" y="968.7" font-size="14.9" text-anchor="middle" fill="#000" font-weight="normal" font-style="normal" >14</text>
<text x="218.3" y="968.7" font-size="14.9" text-anchor="middle" fill="#000" font-weight="normal" font-style="normal" >12</text>
<text x="256.5" y="968.7" font-size="14.9" text-anchor="middle" fill="#000" font-weight="normal" font-style="normal" >11</text>
<text x="294.7" y="968.7" font-size="14.9" text-anchor="middle" fill="#000" font-weight="normal" font-style="normal" >8</text>
<text x="332.9" y="968.7" font-size="14.9" text-anchor="middle" fill="#000" font-weight="normal" font-style="normal" >6</text>
<text x="0.0" y="989.9" font-size="14.9" text-anchor="start" fill="#e1301e" font-weight="normal" font-style="normal" >High</text>
<text x="103.7" y="989.9" font-size="14.9" text-anchor="middle" fill="#e1301e" font-weight="normal" font-style="normal" >25</text>
<text x="141.9" y="989.9" font-size="14.9" text-anchor="middle" fill="#e1301e" font-weight="normal" font-style="normal" >9</text>
<text x="180.1" y="989.9" font-size="14.9" text-anchor="middle" fill="#e1301e" font-weight="normal" font-style="normal" >7</text>
<text x="218.3" y="989.9" font-size="14.9" text-anchor="middle" fill="#e1301e" font-weight="normal" font-style="normal" >5</text>
<text x="256.5" y="989.9" font-size="14.9" text-anchor="middle" fill="#e1301e" font-weight="normal" font-style="normal" >4</text>
<text x="294.7" y="989.9" font-size="14.9" text-anchor="middle" fill="#e1301e" font-weight="normal" font-style="normal" >2</text>
<text x="332.9" y="989.9" font-size="14.9" text-anchor="middle" fill="#e1301e" font-weight="normal" font-style="normal" >1</text>
<text x="0.0" y="1010.0" font-size="14.9" text-anchor="start" fill="#52bd14" font-weight="normal" font-style="normal" >Very high</text>
<text x="103.7" y="1010.0" font-size="14.9" text-anchor="middle" fill="#52bd14" font-weight="normal" font-style="normal" >12</text>
<text x="141.9" y="1010.0" font-size="14.9" text-anchor="middle" fill="#52bd14" font-weight="normal" font-style="normal" >2</text>
<text x="180.1" y="1010.0" font-size="14.9" text-anchor="middle" fill="#52bd14" font-weight="normal" font-style="normal" >2</text>
<text x="218.3" y="1010.0" font-size="14.9" text-anchor="middle" fill="#52bd14" font-weight="normal" font-style="normal" >2</text>
<text x="256.5" y="1010.0" font-size="14.9" text-anchor="middle" fill="#52bd14" font-weight="normal" font-style="normal" >2</text>
<text x="294.7" y="1010.0" font-size="14.9" text-anchor="middle" fill="#52bd14" font-weight="normal" font-style="normal" >1</text>
<text x="332.9" y="1010.0" font-size="14.9" text-anchor="middle" fill="#52bd14" font-weight="normal" font-style="normal" >0</text>
<text x="389.5" y="698.0" font-size="21" text-anchor="start" fill="#000" font-weight="bold" font-style="normal" >f</text>
<path d="M450.2,695.4 L450.2,885.7 L677.1,885.7" fill="none" stroke="#000" stroke-width="2" stroke-linejoin="miter"/>
<line x1="444.2" y1="878.4" x2="450.2" y2="878.4" stroke="#000" stroke-width="2"/>
<text x="440.6" y="883.4" font-size="14.3" text-anchor="end" fill="#000" font-weight="normal" font-style="normal" >0.0</text>
<line x1="444.2" y1="841.8" x2="450.2" y2="841.8" stroke="#000" stroke-width="2"/>
<text x="440.6" y="846.8" font-size="14.3" text-anchor="end" fill="#000" font-weight="normal" font-style="normal" >0.2</text>
<line x1="444.2" y1="805.2" x2="450.2" y2="805.2" stroke="#000" stroke-width="2"/>
<text x="440.6" y="810.2" font-size="14.3" text-anchor="end" fill="#000" font-weight="normal" font-style="normal" >0.4</text>
<line x1="444.2" y1="768.6" x2="450.2" y2="768.6" stroke="#000" stroke-width="2"/>
<text x="440.6" y="773.6" font-size="14.3" text-anchor="end" fill="#000" font-weight="normal" font-style="normal" >0.6</text>
<line x1="444.2" y1="732.0" x2="450.2" y2="732.0" stroke="#000" stroke-width="2"/>
<text x="440.6" y="737.0" font-size="14.3" text-anchor="end" fill="#000" font-weight="normal" font-style="normal" >0.8</text>
<line x1="444.2" y1="695.4" x2="450.2" y2="695.4" stroke="#000" stroke-width="2"/>
<text x="440.6" y="700.4" font-size="14.3" text-anchor="end" fill="#000" font-weight="normal" font-style="normal" >1.0</text>
<line x1="450.2" y1="885.7" x2="450.2" y2="890.7" stroke="#000" stroke-width="2"/>
<text x="450.2" y="906.2" font-size="14.3" text-anchor="middle" fill="#000" font-weight="normal" font-style="normal" >0</text>
<line x1="488.0" y1="885.7" x2="488.0" y2="890.7" stroke="#000" stroke-width="2"/>
<text x="488.0" y="906.2" font-size="14.3" text-anchor="middle" fill="#000" font-weight="normal" font-style="normal" >10</text>
<line x1="525.8" y1="885.7" x2="525.8" y2="890.7" stroke="#000" stroke-width="2"/>
<text x="525.8" y="906.2" font-size="14.3" text-anchor="middle" fill="#000" font-weight="normal" font-style="normal" >20</text>
<line x1="563.6" y1="885.7" x2="563.6" y2="890.7" stroke="#000" stroke-width="2"/>
<text x="563.6" y="906.2" font-size="14.3" text-anchor="middle" fill="#000" font-weight="normal" font-style="normal" >30</text>
<line x1="601.5" y1="885.7" x2="601.5" y2="890.7" stroke="#000" stroke-width="2"/>
<text x="601.5" y="906.2" font-size="14.3" text-anchor="middle" fill="#000" font-weight="normal" font-style="normal" >40</text>
<line x1="639.3" y1="885.7" x2="639.3" y2="890.7" stroke="#000" stroke-width="2"/>
<text x="639.3" y="906.2" font-size="14.3" text-anchor="middle" fill="#000" font-weight="normal" font-style="normal" >50</text>
<line x1="677.1" y1="885.7" x2="677.1" y2="890.7" stroke="#000" stroke-width="2"/>
<text x="677.1" y="906.2" font-size="14.3" text-anchor="middle" fill="#000" font-weight="normal" font-style="normal" >60</text>
<text x="407.8" y="790.4" font-size="14.3" text-anchor="middle" fill="#000" font-weight="normal" font-style="normal" transform="rotate(-90 407.8 790.4)">Probability</text>
<text x="563.5" y="926.0" font-size="14.3" text-anchor="middle" fill="#000" font-weight="normal" font-style="normal" >Months after transplant</text>
<polyline points="449.4,695.3 450.3,699.6 458.1,699.6 459.9,711.0 462.5,725.0 463.4,736.4 466.9,738.2 469.5,742.6 473.0,747.8 478.3,752.2 482.7,760.1 486.2,761.8 492.3,762.6 493.1,773.1 501.9,773.1 501.9,784.5 520.3,784.5 520.3,790.2 550.1,790.2 551.0,796.6 636.7,796.6 637.5,818.7 679.3,818.7" fill="none" stroke="#000" stroke-width="2.1" stroke-linejoin="miter"/>
<line x1="470.4" y1="739.1" x2="470.4" y2="746.1" stroke="#000" stroke-width="2"/>
<line x1="480.0" y1="748.7" x2="480.0" y2="755.7" stroke="#000" stroke-width="2"/>
<line x1="485.3" y1="758.3" x2="485.3" y2="765.3" stroke="#000" stroke-width="2"/>
<line x1="530.8" y1="786.7" x2="530.8" y2="793.7" stroke="#000" stroke-width="2"/>
<line x1="550.1" y1="786.7" x2="550.1" y2="793.7" stroke="#000" stroke-width="2"/>
<line x1="590.0" y1="793.1" x2="590.0" y2="800.1" stroke="#000" stroke-width="2"/>
<line x1="592.3" y1="793.1" x2="592.3" y2="800.1" stroke="#000" stroke-width="2"/>
<line x1="615.0" y1="793.1" x2="615.0" y2="800.1" stroke="#000" stroke-width="2"/>
<line x1="617.6" y1="793.1" x2="617.6" y2="800.1" stroke="#000" stroke-width="2"/>
<line x1="637.5" y1="802.5" x2="637.5" y2="809.5" stroke="#000" stroke-width="2"/>
<line x1="671.2" y1="815.2" x2="671.2" y2="822.2" stroke="#000" stroke-width="2"/>
<line x1="676.3" y1="815.2" x2="676.3" y2="822.2" stroke="#000" stroke-width="2"/>
<polyline points="450.3,695.3 452.9,709.3 455.5,720.7 457.3,722.4 459.0,730.3 461.6,740.8 464.3,753.1 467.8,765.3 471.3,774.1 475.7,784.6 478.3,796.9 481.8,799.5 486.1,800.3 487.0,806.4 504.5,806.4 504.5,812.6 521.2,812.6 521.2,827.6 679.3,827.6" fill="none" stroke="#e1301e" stroke-width="2.1" stroke-linejoin="miter" stroke-dasharray="6.5 3"/>
<line x1="499.3" y1="802.9" x2="499.3" y2="809.9" stroke="#e1301e" stroke-width="2"/>
<line x1="496.3" y1="806.4" x2="502.3" y2="806.4" stroke="#e1301e" stroke-width="2.1"/>
<line x1="621.1" y1="824.1" x2="621.1" y2="831.1" stroke="#e1301e" stroke-width="2"/>
<line x1="618.1" y1="827.6" x2="624.1" y2="827.6" stroke="#e1301e" stroke-width="2.1"/>
<line x1="671.2" y1="824.1" x2="671.2" y2="831.1" stroke="#e1301e" stroke-width="2"/>
<line x1="668.2" y1="827.6" x2="674.2" y2="827.6" stroke="#e1301e" stroke-width="2.1"/>
<line x1="673.8" y1="824.1" x2="673.8" y2="831.1" stroke="#e1301e" stroke-width="2"/>
<line x1="670.8" y1="827.6" x2="676.8" y2="827.6" stroke="#e1301e" stroke-width="2.1"/>
<rect x="535.5" y="691.7" width="139.0" height="67.3" fill="#fff" stroke="#000" stroke-width="1.6"/>
<text x="545.9" y="712.0" font-size="14.2" text-anchor="start" fill="#000" font-weight="normal" font-style="normal" >Blast ratio at HSCT</text>
<line x1="548.4" y1="727.9" x2="562.4" y2="727.9" stroke="#000" stroke-width="2.4"/>
<text x="567.2" y="732.6" font-size="14.2" text-anchor="start" fill="#000" font-weight="normal" font-style="normal" >&lt;20 %</text>
<line x1="548.4" y1="744.9" x2="554.4" y2="744.9" stroke="#e1301e" stroke-width="2.4"/>
<line x1="557.4" y1="744.9" x2="562.4" y2="744.9" stroke="#e1301e" stroke-width="2.4"/>
<text x="567.2" y="749.6" font-size="14.2" text-anchor="start" fill="#000" font-weight="normal" font-style="normal" >≥20 %</text>
<text x="678.5" y="874.0" font-size="14.3" text-anchor="end"><tspan font-style="italic">P</tspan>=0.22</text>
<text x="437.0" y="947.0" font-size="14.2" text-anchor="start" fill="#000" font-weight="normal" font-style="normal" >Number at risk</text>
<text x="383.0" y="969.2" font-size="14.9" text-anchor="start" fill="#000" font-weight="normal" font-style="normal" >&lt;20 %</text>
<text x="450.2" y="969.2" font-size="14.9" text-anchor="middle" fill="#000" font-weight="normal" font-style="normal" >39</text>
<text x="488.0" y="969.2" font-size="14.9" text-anchor="middle" fill="#000" font-weight="normal" font-style="normal" >21</text>
<text x="525.8" y="969.2" font-size="14.9" text-anchor="middle" fill="#000" font-weight="normal" font-style="normal" >16</text>
<text x="563.6" y="969.2" font-size="14.9" text-anchor="middle" fill="#000" font-weight="normal" font-style="normal" >12</text>
<text x="601.5" y="969.2" font-size="14.9" text-anchor="middle" fill="#000" font-weight="normal" font-style="normal" >10</text>
<text x="639.3" y="969.2" font-size="14.9" text-anchor="middle" fill="#000" font-weight="normal" font-style="normal" >5</text>
<text x="677.1" y="969.2" font-size="14.9" text-anchor="middle" fill="#000" font-weight="normal" font-style="normal" >3</text>
<text x="383.0" y="989.6" font-size="14.9" text-anchor="start" fill="#e1301e" font-weight="normal" font-style="normal" >≥20 %</text>
<text x="450.2" y="989.6" font-size="14.9" text-anchor="middle" fill="#e1301e" font-weight="normal" font-style="normal" >28</text>
<text x="488.0" y="989.6" font-size="14.9" text-anchor="middle" fill="#e1301e" font-weight="normal" font-style="normal" >11</text>
<text x="525.8" y="989.6" font-size="14.9" text-anchor="middle" fill="#e1301e" font-weight="normal" font-style="normal" >7</text>
<text x="563.6" y="989.6" font-size="14.9" text-anchor="middle" fill="#e1301e" font-weight="normal" font-style="normal" >7</text>
<text x="601.5" y="989.6" font-size="14.9" text-anchor="middle" fill="#e1301e" font-weight="normal" font-style="normal" >7</text>
<text x="639.3" y="989.6" font-size="14.9" text-anchor="middle" fill="#e1301e" font-weight="normal" font-style="normal" >6</text>
<text x="677.1" y="989.6" font-size="14.9" text-anchor="middle" fill="#e1301e" font-weight="normal" font-style="normal" >4</text>
<text x="36.5" y="1051.5" font-size="21" text-anchor="start" fill="#000" font-weight="bold" font-style="normal" >g</text>
<path d="M103.7,1052.4 L103.7,1251.8 L341.3,1251.8" fill="none" stroke="#000" stroke-width="2" stroke-linejoin="miter"/>
<line x1="97.7" y1="1244.5" x2="103.7" y2="1244.5" stroke="#000" stroke-width="2"/>
<text x="92.4" y="1249.5" font-size="14.2" text-anchor="end" fill="#000" font-weight="normal" font-style="normal" >0.0</text>
<line x1="97.7" y1="1206.1" x2="103.7" y2="1206.1" stroke="#000" stroke-width="2"/>
<text x="92.4" y="1211.1" font-size="14.2" text-anchor="end" fill="#000" font-weight="normal" font-style="normal" >0.2</text>
<line x1="97.7" y1="1167.7" x2="103.7" y2="1167.7" stroke="#000" stroke-width="2"/>
<text x="92.4" y="1172.7" font-size="14.2" text-anchor="end" fill="#000" font-weight="normal" font-style="normal" >0.4</text>
<line x1="97.7" y1="1129.2" x2="103.7" y2="1129.2" stroke="#000" stroke-width="2"/>
<text x="92.4" y="1134.2" font-size="14.2" text-anchor="end" fill="#000" font-weight="normal" font-style="normal" >0.6</text>
<line x1="97.7" y1="1090.8" x2="103.7" y2="1090.8" stroke="#000" stroke-width="2"/>
<text x="92.4" y="1095.8" font-size="14.2" text-anchor="end" fill="#000" font-weight="normal" font-style="normal" >0.8</text>
<line x1="97.7" y1="1052.4" x2="103.7" y2="1052.4" stroke="#000" stroke-width="2"/>
<text x="92.4" y="1057.4" font-size="14.2" text-anchor="end" fill="#000" font-weight="normal" font-style="normal" >1.0</text>
<line x1="103.7" y1="1251.8" x2="103.7" y2="1256.8" stroke="#000" stroke-width="2"/>
<text x="103.7" y="1273.8" font-size="14.2" text-anchor="middle" fill="#000" font-weight="normal" font-style="normal" >0</text>
<line x1="143.3" y1="1251.8" x2="143.3" y2="1256.8" stroke="#000" stroke-width="2"/>
<text x="143.3" y="1273.8" font-size="14.2" text-anchor="middle" fill="#000" font-weight="normal" font-style="normal" >10</text>
<line x1="182.9" y1="1251.8" x2="182.9" y2="1256.8" stroke="#000" stroke-width="2"/>
<text x="182.9" y="1273.8" font-size="14.2" text-anchor="middle" fill="#000" font-weight="normal" font-style="normal" >20</text>
<line x1="222.5" y1="1251.8" x2="222.5" y2="1256.8" stroke="#000" stroke-width="2"/>
<text x="222.5" y="1273.8" font-size="14.2" text-anchor="middle" fill="#000" font-weight="normal" font-style="normal" >30</text>
<line x1="262.1" y1="1251.8" x2="262.1" y2="1256.8" stroke="#000" stroke-width="2"/>
<text x="262.1" y="1273.8" font-size="14.2" text-anchor="middle" fill="#000" font-weight="normal" font-style="normal" >40</text>
<line x1="301.7" y1="1251.8" x2="301.7" y2="1256.8" stroke="#000" stroke-width="2"/>
<text x="301.7" y="1273.8" font-size="14.2" text-anchor="middle" fill="#000" font-weight="normal" font-style="normal" >50</text>
<line x1="341.3" y1="1251.8" x2="341.3" y2="1256.8" stroke="#000" stroke-width="2"/>
<text x="341.3" y="1273.8" font-size="14.2" text-anchor="middle" fill="#000" font-weight="normal" font-style="normal" >60</text>
<text x="56.8" y="1150.7" font-size="14.6" text-anchor="middle" fill="#000" font-weight="normal" font-style="normal" transform="rotate(-90 56.8 1150.7)">Probability</text>
<text x="222.5" y="1295.5" font-size="14.8" text-anchor="middle" fill="#000" font-weight="normal" font-style="normal" >Months after transplant</text>
<polyline points="103.5,1052.9 106.1,1058.1 113.1,1058.1 114.9,1071.3 116.6,1080.0 117.5,1101.1 123.7,1101.1 128.9,1102.8 128.9,1109.0 135.0,1109.0 135.9,1116.0 139.4,1116.0 140.3,1122.3 147.0,1122.6 147.9,1130.5 148.8,1137.3 177.4,1137.3 177.7,1144.7 209.2,1144.7 210.1,1153.4 299.4,1153.4 300.4,1187.9 336.4,1187.9" fill="none" stroke="#000" stroke-width="2.1" stroke-linejoin="miter"/>
<line x1="125.4" y1="1097.6" x2="125.4" y2="1104.6" stroke="#000" stroke-width="2"/>
<line x1="126.3" y1="1098.4" x2="126.3" y2="1105.4" stroke="#000" stroke-width="2"/>
<line x1="135.0" y1="1105.5" x2="135.0" y2="1112.5" stroke="#000" stroke-width="2"/>
<line x1="188.6" y1="1141.2" x2="188.6" y2="1148.2" stroke="#000" stroke-width="2"/>
<line x1="209.3" y1="1141.2" x2="209.3" y2="1148.2" stroke="#000" stroke-width="2"/>
<line x1="250.4" y1="1149.9" x2="250.4" y2="1156.9" stroke="#000" stroke-width="2"/>
<line x1="253.6" y1="1149.9" x2="253.6" y2="1156.9" stroke="#000" stroke-width="2"/>
<line x1="276.6" y1="1149.9" x2="276.6" y2="1156.9" stroke="#000" stroke-width="2"/>
<line x1="279.8" y1="1149.9" x2="279.8" y2="1156.9" stroke="#000" stroke-width="2"/>
<line x1="301.0" y1="1165.1" x2="301.0" y2="1172.1" stroke="#000" stroke-width="2"/>
<line x1="335.5" y1="1184.4" x2="335.5" y2="1191.4" stroke="#000" stroke-width="2"/>
<polyline points="104.4,1052.9 107.0,1062.5 110.5,1073.0 114.0,1083.5 117.5,1101.1 121.0,1115.1 124.5,1121.2 128.0,1132.6 131.5,1141.4 135.0,1152.7 140.3,1154.5 144.4,1159.4 156.6,1159.4 157.5,1162.0 159.3,1172.6 161.0,1177.5 175.9,1177.5 177.7,1179.6 178.5,1189.6 342.0,1189.6" fill="none" stroke="#e1301e" stroke-width="2.1" stroke-linejoin="miter" stroke-dasharray="6.5 3"/>
<line x1="141.3" y1="1150.5" x2="141.3" y2="1157.5" stroke="#e1301e" stroke-width="2"/>
<line x1="138.3" y1="1154.0" x2="144.3" y2="1154.0" stroke="#e1301e" stroke-width="2.1"/>
<line x1="156.0" y1="1155.9" x2="156.0" y2="1162.9" stroke="#e1301e" stroke-width="2"/>
<line x1="153.0" y1="1159.4" x2="159.0" y2="1159.4" stroke="#e1301e" stroke-width="2.1"/>
<line x1="283.4" y1="1186.1" x2="283.4" y2="1193.1" stroke="#e1301e" stroke-width="2"/>
<line x1="280.4" y1="1189.6" x2="286.4" y2="1189.6" stroke="#e1301e" stroke-width="2.1"/>
<line x1="335.5" y1="1186.1" x2="335.5" y2="1193.1" stroke="#e1301e" stroke-width="2"/>
<line x1="332.5" y1="1189.6" x2="338.5" y2="1189.6" stroke="#e1301e" stroke-width="2.1"/>
<line x1="340.4" y1="1186.1" x2="340.4" y2="1193.1" stroke="#e1301e" stroke-width="2"/>
<line x1="337.4" y1="1189.6" x2="343.4" y2="1189.6" stroke="#e1301e" stroke-width="2.1"/>
<rect x="193.2" y="1054.0" width="146.0" height="69.6" fill="#fff" stroke="#000" stroke-width="1.6"/>
<text x="204.4" y="1074.6" font-size="14.6" text-anchor="start" fill="#000" font-weight="normal" font-style="normal" >Blast ratio at HSCT</text>
<line x1="206.5" y1="1090.9" x2="221.9" y2="1090.9" stroke="#000" stroke-width="2.4"/>
<text x="227.2" y="1096.0" font-size="14.6" text-anchor="start" fill="#000" font-weight="normal" font-style="normal" >&lt;10 %</text>
<line x1="206.5" y1="1108.9" x2="212.5" y2="1108.9" stroke="#e1301e" stroke-width="2.4"/>
<line x1="215.5" y1="1108.9" x2="221.9" y2="1108.9" stroke="#e1301e" stroke-width="2.4"/>
<text x="227.2" y="1114.3" font-size="14.6" text-anchor="start" fill="#000" font-weight="normal" font-style="normal" >≥10 %</text>
<text x="335.0" y="1232.7" font-size="14.6" text-anchor="end"><tspan font-style="italic">P</tspan>=0.025</text>
<text x="92.0" y="1317.3" font-size="14.2" text-anchor="start" fill="#000" font-weight="normal" font-style="normal" >Number at risk</text>
<text x="36.0" y="1341.0" font-size="14.9" text-anchor="start" fill="#000" font-weight="normal" font-style="normal" >&lt;10 %</text>
<text x="103.7" y="1341.0" font-size="14.9" text-anchor="middle" fill="#000" font-weight="normal" font-style="normal" >31</text>
<text x="143.3" y="1341.0" font-size="14.9" text-anchor="middle" fill="#000" font-weight="normal" font-style="normal" >17</text>
<text x="182.9" y="1341.0" font-size="14.9" text-anchor="middle" fill="#000" font-weight="normal" font-style="normal" >14</text>
<text x="222.5" y="1341.0" font-size="14.9" text-anchor="middle" fill="#000" font-weight="normal" font-style="normal" >10</text>
<text x="262.1" y="1341.0" font-size="14.9" text-anchor="middle" fill="#000" font-weight="normal" font-style="normal" >8</text>
<text x="301.7" y="1341.0" font-size="14.9" text-anchor="middle" fill="#000" font-weight="normal" font-style="normal" >3</text>
<text x="341.3" y="1341.0" font-size="14.9" text-anchor="middle" fill="#000" font-weight="normal" font-style="normal" >1</text>
<text x="36.0" y="1359.0" font-size="14.9" text-anchor="start" fill="#e1301e" font-weight="normal" font-style="normal" >≥10 %</text>
<text x="103.7" y="1359.0" font-size="14.9" text-anchor="middle" fill="#e1301e" font-weight="normal" font-style="normal" >36</text>
<text x="143.3" y="1359.0" font-size="14.9" text-anchor="middle" fill="#e1301e" font-weight="normal" font-style="normal" >15</text>
<text x="182.9" y="1359.0" font-size="14.9" text-anchor="middle" fill="#e1301e" font-weight="normal" font-style="normal" >9</text>
<text x="222.5" y="1359.0" font-size="14.9" text-anchor="middle" fill="#e1301e" font-weight="normal" font-style="normal" >9</text>
<text x="262.1" y="1359.0" font-size="14.9" text-anchor="middle" fill="#e1301e" font-weight="normal" font-style="normal" >9</text>
<text x="301.7" y="1359.0" font-size="14.9" text-anchor="middle" fill="#e1301e" font-weight="normal" font-style="normal" >8</text>
<text x="341.3" y="1359.0" font-size="14.9" text-anchor="middle" fill="#e1301e" font-weight="normal" font-style="normal" >6</text>
</svg></body></html>
